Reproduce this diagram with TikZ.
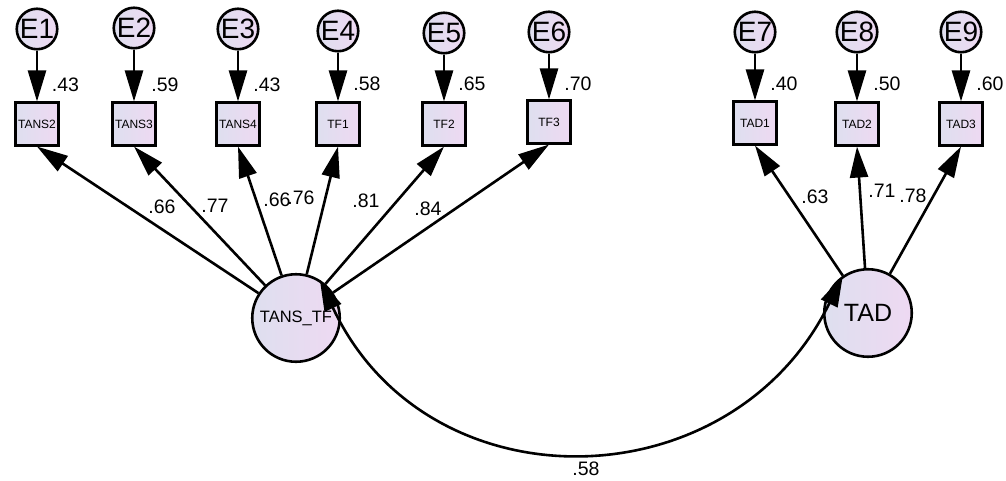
\documentclass[tikz,border=0pt]{standalone}
\usepackage{fontspec}
\setmainfont{Liberation Sans}
\usetikzlibrary{arrows.meta}
\definecolor{lavL}{RGB}{222,223,239}
\definecolor{lavR}{RGB}{238,217,242}
\begin{document}
\begin{tikzpicture}[x=1pt,y=1pt,
  semnode/.style={draw=black, line width=2.6pt, left color=lavL, right color=lavR, inner sep=0pt, text=black},
  errnode/.style={semnode, circle, minimum size=40.5pt, font=\fontsize{28}{28}\selectfont},
  obsbox/.style={semnode, rectangle, minimum width=42.5pt, minimum height=42.5pt, font=\fontsize{12}{12}\selectfont},
  latent/.style={semnode, circle, minimum size=87.5pt},
  val/.style={inner sep=0pt, font=\fontsize{19.5}{19.5}\selectfont},
  tri/.tip={Triangle[length=31pt,width=18pt]},
  arr/.style={line width=2.6pt, -tri},
  dbl/.style={line width=2.6pt, tri-tri},
]
\useasboundingbox (0,0) rectangle (1006,-480);

% error terms
\node[errnode] (e1) at (37,-29) {E1};
\node[errnode] (e2) at (134,-28) {E2};
\node[errnode] (e3) at (238,-29) {E3};
\node[errnode] (e4) at (338,-31) {E4};
\node[errnode] (e5) at (444,-33) {E5};
\node[errnode] (e6) at (549,-32) {E6};
\node[errnode] (e7) at (755,-32) {E7};
\node[errnode] (e8) at (857,-32) {E8};
\node[errnode] (e9) at (961,-32) {E9};

% observed indicators
\node[obsbox] (o1) at (37,-124) {TANS2};
\node[obsbox] (o2) at (134,-124) {TANS3};
\node[obsbox] (o3) at (238,-124) {TANS4};
\node[obsbox] (o4) at (338,-124) {TF1};
\node[obsbox] (o5) at (444,-124) {TF2};
\node[obsbox] (o6) at (549,-122) {TF3};
\node[obsbox] (o7) at (755,-123) {TAD1};
\node[obsbox] (o8) at (857,-124) {TAD2};
\node[obsbox] (o9) at (961,-124) {TAD3};

% latent factors
\node[latent, font=\fontsize{16.5}{16.5}\selectfont] (tans) at (296,-318) {TANS\_TF};
\node[latent, font=\fontsize{25}{25}\selectfont] (tad) at (868,-313) {TAD};

% error paths
\foreach \i in {1,...,9} \draw[arr] (e\i) -- (o\i);

% loadings
\foreach \i in {1,...,6} \draw[arr] (tans) -- (o\i.south);
\foreach \i in {7,8,9} \draw[arr] (tad) -- (o\i.south);

% factor correlation
\draw[dbl] (tans.58) to[out=-65,in=-116,looseness=1.24] (tad.124);

% squared multiple correlations
\node[val] (r1) at (65.5,-85) {.43};
\node[val] (r2) at (165,-85) {.59};
\node[val] (r3) at (267,-85) {.43};
\node[val] (r4) at (367,-84) {.58};
\node[val] (r5) at (472,-84) {.65};
\node[val] (r6) at (578,-84) {.70};
\node[val] (r7) at (784,-84) {.40};
\node[val] (r8) at (887,-84) {.50};
\node[val] (r9) at (990,-84) {.60};

% standardized loadings
\node[val] (l1) at (162,-207) {.66};
\node[val] (l2) at (215,-206) {.77};
\node[val] (l3) at (277,-200) {.66};
\node[val] (l4) at (301,-198) {.76};
\node[val] (l5) at (366,-201) {.81};
\node[val] (l6) at (428,-209) {.84};
\node[val] (l7) at (815,-197) {.63};
\node[val] (l8) at (882,-191) {.71};
\node[val] (l9) at (913,-196) {.78};

% correlation value
\node[val] (c1) at (586,-469) {.58};
\end{tikzpicture}
\end{document}
